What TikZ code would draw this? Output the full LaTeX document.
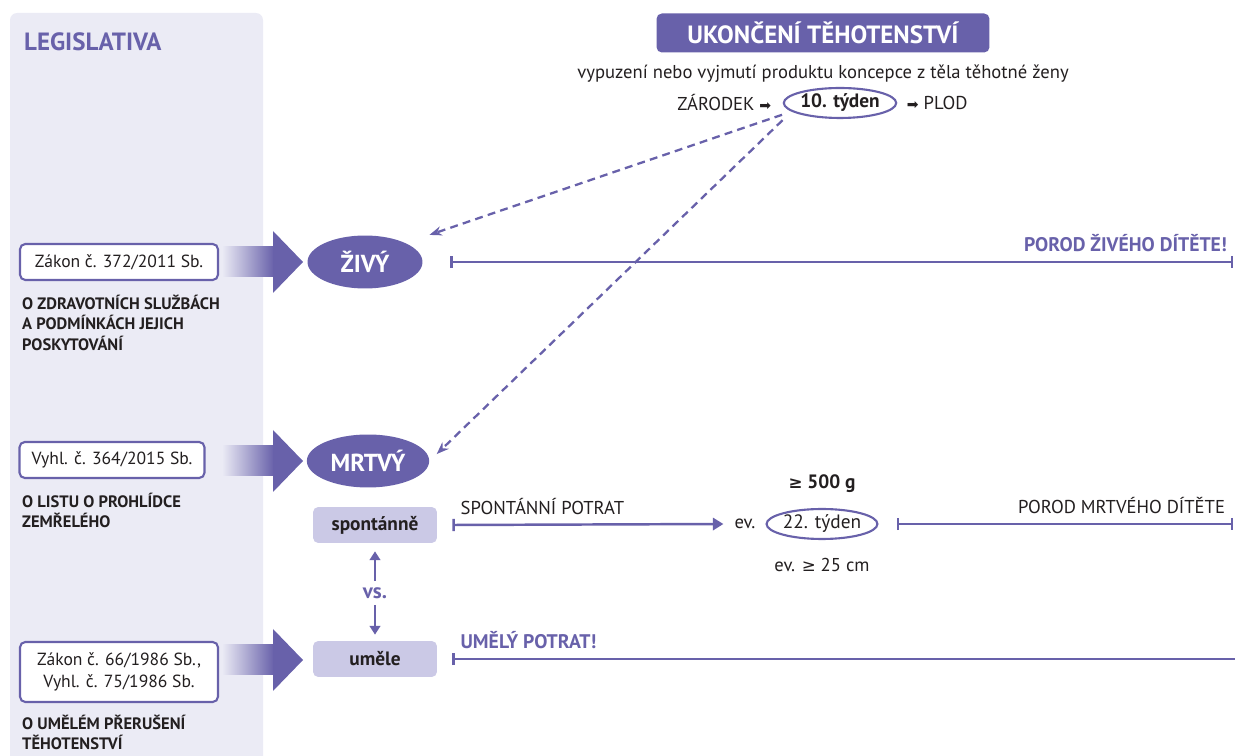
\documentclass[tikz,border=0pt]{standalone}
\usepackage{fontspec}
\setmainfont{PT Sans}
\newfontfamily\symfont{DejaVu Sans}
\usetikzlibrary{arrows.meta,shapes.geometric}
\definecolor{fialova}{RGB}{104,97,170}
\definecolor{svetla}{RGB}{203,201,230}
\definecolor{panel}{RGB}{235,235,245}
\definecolor{tmava}{RGB}{35,31,32}
\tikzset{
    zakon/.style = {draw = fialova, line width = 1.2pt, fill = white, rounded corners = 3pt,
        text = tmava, font = \fontsize{10}{12.5}\selectfont, align = center, minimum height = 0.72cm},
    popis/.style = {anchor = north west, align = left, text = tmava, font = \bfseries\fontsize{9.4}{11.6}\selectfont},
    stav/.style = {ellipse, fill = fialova, text = white, font = \bfseries\fontsize{14}{16}\selectfont,
        minimum width = 2.3cm, minimum height = 1.06cm},
    zpusob/.style = {fill = svetla, rounded corners = 3pt, text = tmava, font = \bfseries\fontsize{11}{13}\selectfont,
        minimum width = 2.48cm, minimum height = 0.72cm},
    tyden/.style = {ellipse, draw = fialova, line width = 1.2pt, fill = white, text = tmava, inner sep = 0pt,
        minimum width = 2.1cm, minimum height = 0.6cm, font = \fontsize{11}{13}\selectfont},
    osa/.style = {fialova, line width = 1.4pt},
    napis/.style = {text = fialova, font = \bfseries\fontsize{11.2}{13}\selectfont},
    obsah/.style = {text = tmava, font = \fontsize{10.6}{13}\selectfont},
    mala/.style = {fialova, line width = 1.3pt, -{Triangle[length = 5pt, width = 6pt]}},
    carka/.style = {fialova, line width = 1.3pt, dash pattern = on 4.5pt off 3pt, -{Stealth[length = 7pt]}}
}
\newcommand\sipecka{{\symfont\fontsize{8}{9}\selectfont ➡}}
\begin{document}
\begin{tikzpicture}[x = 0.02cm, y = -0.02cm]
    \useasboundingbox (0,0) rectangle (1235,756);
    % panel legislativa
    \fill[panel, rounded corners = 4pt] (10,13) rectangle (263,770);
    \node[anchor = west, text = fialova, font = \bfseries\fontsize{14.2}{16}\selectfont] (leg) at (18,42) {LEGISLATIVA};
    % velke sipky z panelu
    \foreach \y in {262, 461, 660}{
        \shade[left color = panel, right color = fialova] (222,\y-15) rectangle (274,\y+15);
        \fill[fialova] (273,\y-31) -- (303,\y) -- (273,\y+31) -- cycle;
    }
    \node[zakon, minimum width = 3.96cm] (z1) at (119,262) {Zákon č. 372/2011 Sb.};
    \node[zakon, minimum width = 3.7cm] (z2) at (112,460) {Vyhl. č. 364/2015 Sb.};
    \node[zakon, minimum width = 3.96cm, minimum height = 1.2cm] (z3) at (119,672) {Zákon č. 66/1986 Sb.,\\Vyhl. č. 75/1986 Sb.};
    \node[popis] (p1) at (16,289) {O ZDRAVOTNÍCH SLUŽBÁCH\\A PODMÍNKÁCH JEJICH\\POSKYTOVÁNÍ};
    \node[popis] (p2) at (16,487) {O LISTU O PROHLÍDCE\\ZEMŘELÉHO};
    \node[popis] (p3) at (16,709) {O UMĚLÉM PŘERUŠENÍ\\TĚHOTENSTVÍ};
    % nadpis
    \node[fill = fialova, rounded corners = 3pt, text = white, font = \bfseries\fontsize{14.2}{16}\selectfont,
        minimum width = 6.66cm, minimum height = 0.78cm] (nadpis) at (823,33) {UKONČENÍ TĚHOTENSTVÍ};
    \node[obsah] (def) at (823,74) {vypuzení nebo vyjmutí produktu koncepce z těla těhotné ženy};
    \node[tyden, font = \bfseries\fontsize{11}{13}\selectfont] (t10) at (840,103) {10. týden};
    \node[obsah, anchor = east, xshift = -3pt] (zar) at (t10.west) {ZÁRODEK \sipecka};
    \node[obsah, anchor = west, xshift = 2pt] (plod) at (t10.east) {\sipecka\ PLOD};
    % zivy a mrtvy
    \node[stav] (zivy) at (365,262) {ŽIVÝ};
    \node[stav] (mrtvy) at (368,461) {MRTVÝ};
    \node[zpusob] (spont) at (375,525) {spontánně};
    \node[zpusob] (umele) at (375,659) {uměle};
    \node[text = fialova, font = \bfseries\fontsize{12}{14}\selectfont] (vs) at (375,593) {vs.};
    \draw[mala, shorten >= 0.16cm] (vs.north) -- (spont.south);
    \draw[mala, shorten >= 0.12cm] (vs.south) -- (umele.north);
    \draw[carka, shorten <= 0.2cm, shorten >= 0.5cm] (t10.190) -- (zivy.25);
    \draw[carka, shorten <= 0.25cm, shorten >= 0.2cm] (t10.190) -- (mrtvy.east);
    % casove osy
    \coordinate (k1) at (1233,262);
    \coordinate (k2) at (1233,524);
    \coordinate (k3) at (1236,659);
    \draw[osa, {Bar[width = 7pt]}-{Bar[width = 7pt]}] ([xshift = 0.55cm]zivy.east) -- (k1)
        node[napis, pos = 1, anchor = base east, xshift = 0.5pt, yshift = 6pt] (porz) {POROD ŽIVÉHO DÍTĚTE!};
    \node[tyden] (t22) at (822,524) {22. týden};
    \node[obsah, anchor = east] (ev1) at ([xshift = -0.08cm]t22.west) {ev.};
    \node[obsah, font = \bfseries\fontsize{11}{13}\selectfont] (hmot) at (822,484) {{\symfont\fontsize{9.5}{10}\selectfont ≥} 500 g};
    \node[obsah] (delka) at (822,565) {ev. {\symfont\fontsize{9.5}{10}\selectfont ≥} 25 cm};
    \draw[osa, {Bar[width = 7pt]}-{Triangle[length = 6pt, width = 7pt]}] ([xshift = 0.3cm]spont.east) -- ([xshift = -0.1cm]ev1.west)
        node[obsah, pos = 0, anchor = base west, xshift = 0.7pt, yshift = 6pt] (sp) {SPONTÁNNÍ POTRAT};
    \draw[osa, {Bar[width = 7pt]}-{Bar[width = 7pt]}] ([xshift = 0.36cm]t22.east) -- (k2)
        node[obsah, pos = 1, anchor = base east, xshift = -0.5pt, yshift = 6pt] (porm) {POROD MRTVÉHO DÍTĚTE};
    \draw[osa, {Bar[width = 7pt]}-] ([xshift = 0.3cm]umele.east) -- (k3)
        node[napis, pos = 0, anchor = base west, xshift = 0.7pt, yshift = 6pt] (um) {UMĚLÝ POTRAT!};
\end{tikzpicture}
\end{document}
